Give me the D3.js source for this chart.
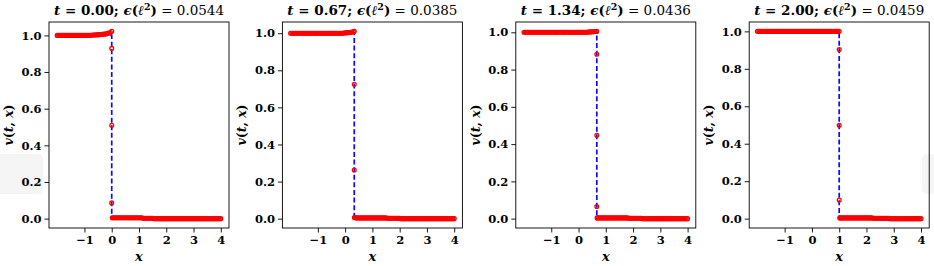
<!DOCTYPE html>
<html><head><meta charset="utf-8">
<script src="https://cdn.jsdelivr.net/npm/d3@7"></script>
<style>body{margin:0;background:#fff}svg{display:block}</style>
</head><body>
<svg id="c" width="934" height="266"></svg>
<script>
// ---- data ----
const times = ["0.00", "0.67", "1.34", "2.00"];
const errors = ["0.0544", "0.0385", "0.0436", "0.0459"];
const shockX = [0.0, 0.335, 0.67, 1.0];
const xGrid = [
  -2.00,-1.95,-1.90,-1.85,-1.80,-1.75,-1.70,-1.65,-1.60,-1.55,
  -1.50,-1.45,-1.40,-1.35,-1.30,-1.25,-1.20,-1.15,-1.10,-1.05,
  -1.00,-0.95,-0.90,-0.85,-0.80,-0.75,-0.70,-0.65,-0.60,-0.55,
  -0.50,-0.45,-0.40,-0.35,-0.30,-0.25,-0.20,-0.15,-0.10,-0.05,
  0.00,0.05,0.10,0.15,0.20,0.25,0.30,0.35,0.40,0.45,
  0.50,0.55,0.60,0.65,0.70,0.75,0.80,0.85,0.90,0.95,
  1.00,1.05,1.10,1.15,1.20,1.25,1.30,1.35,1.40,1.45,
  1.50,1.55,1.60,1.65,1.70,1.75,1.80,1.85,1.90,1.95,
  2.00,2.05,2.10,2.15,2.20,2.25,2.30,2.35,2.40,2.45,
  2.50,2.55,2.60,2.65,2.70,2.75,2.80,2.85,2.90,2.95,
  3.00,3.05,3.10,3.15,3.20,3.25,3.30,3.35,3.40,3.45,
  3.50,3.55,3.60,3.65,3.70,3.75,3.80,3.85,3.90,3.95,
  4.00];
const predT000 = [
  1,1,1,1,1,1,1,1,1,1,
  1,1,1,1,1,1,1,1,1,1,
  1,1,1,1,1.001,1.001,1.002,1.002,1.003,1.003,
  1.004,1.004,1.005,1.006,1.007,1.008,1.009,1.011,1.013,1.016,
  1.022,0.005,0.005,0.005,0.005,0.005,0.005,0.005,0.005,0.005,
  0.005,0.005,0.005,0.005,0.005,0.005,0.005,0.005,0.005,0.005,
  0.005,0.005,0.005,0.002,0.002,0.002,0.002,0.002,0.002,0.002,
  0.002,0,0,0,0,0,0,0,0,0,
  0,0,0,0,0,0,0,0,0,0,
  0,0,0,0,0,0,0,0,0,0,
  0,0,0,0,0,0,0,0,0,0,
  0,0,0,0,0,0,0,0,0,0,
  0];
const predT067 = [
  1,1,1,1,1,1,1,1,1,1,
  1,1,1,1,1,1,1,1,1,1,
  1,1,1,1,1,1,1,1,1,1,
  1,1,1,1,1,1,1,1,1,1.001,
  1.002,1.002,1.003,1.004,1.005,1.006,1.008,0.006,0.004,0.004,
  0.004,0.004,0.004,0.004,0.004,0.004,0.004,0.004,0.004,0.004,
  0.004,0.004,0.004,0.004,0.004,0.004,0.004,0.004,0.004,0.004,
  0.004,0.002,0.002,0.002,0.002,0.002,0.002,0.002,0.002,0.002,
  0.002,0,0,0,0,0,0,0,0,0,
  0,0,0,0,0,0,0,0,0,0,
  0,0,0,0,0,0,0,0,0,0,
  0,0,0,0,0,0,0,0,0,0,
  0];
const predT134 = [
  1,1,1,1,1,1,1,1,1,1,
  1,1,1,1,1,1,1,1,1,1,
  1,1,1,1,1,1,1,1,1,1,
  1,1,1,1,1,1,1,1,1,1,
  1,1,1,1,1,1,1,1.001,1.002,1.002,
  1.003,1.003,1.004,1.004,0.004,0.004,0.004,0.004,0.004,0.004,
  0.004,0.004,0.004,0.004,0.004,0.004,0.004,0.004,0.004,0.004,
  0.004,0.004,0.004,0.004,0.004,0.004,0.004,0.002,0.002,0.002,
  0.002,0.002,0.002,0.002,0.002,0.002,0.002,0,0,0,
  0,0,0,0,0,0,0,0,0,0,
  0,0,0,0,0,0,0,0,0,0,
  0,0,0,0,0,0,0,0,0,0,
  0];
const predT200 = [
  1,1,1,1,1,1,1,1,1,1,
  1,1,1,1,1,1,1,1,1,1,
  1,1,1,1,1,1,1,1,1,1,
  1,1,1,1,1,1,1,1,1,1,
  1,1,1,1,1,1,1,1,1,1,
  1,1,1,1,1,1,1,1,1,1,
  1,0.004,0.004,0.004,0.004,0.004,0.004,0.004,0.004,0.004,
  0.004,0.004,0.004,0.004,0.004,0.004,0.004,0.004,0.004,0.004,
  0.004,0.004,0.004,0.004,0.004,0.002,0.002,0.002,0.002,0.002,
  0.002,0.002,0.002,0.002,0.002,0.002,0.002,0,0,0,
  0,0,0,0,0,0,0,0,0,0,
  0,0,0,0,0,0,0,0,0,0,
  0];
const jumpT000 = [[0.0, 0.929], [0.0, 0.509], [0.0, 0.086], [0.02, 0.005]];
const jumpT067 = [[0.335, 1.010], [0.335, 0.725], [0.335, 0.262], [0.34, 0.006]];
const jumpT134 = [[0.67, 1.005], [0.67, 0.882], [0.67, 0.447], [0.67, 0.065], [0.68, 0.004]];
const jumpT200 = [[1.0, 0.903], [1.0, 0.499], [1.0, 0.099], [1.02, 0.004]];
const preds = [predT000, predT067, predT134, predT200];
const jumps = [jumpT000, jumpT067, jumpT134, jumpT200];
const yTicks = [0.0, 0.2, 0.4, 0.6, 0.8, 1.0];
const xTicks = [-1, 0, 1, 2, 3, 4];
const xRange = [-2, 4];

// ---- layout ----
const svg = d3.select("#c");
const left0 = 49, step = 233.4, pw = 180, topY = 22, bottomY = 228;
const serif = "'DejaVu Serif', serif";

// faint grey boxes at the edges (artifacts in the reference)
svg.append("rect").attr("x", -6).attr("y", 154).attr("width", 49).attr("height", 40)
  .attr("rx", 5).attr("fill", "#f5f5f5");
svg.append("rect").attr("x", 922).attr("y", 154).attr("width", 30).attr("height", 40)
  .attr("rx", 5).attr("fill", "#f5f5f5");

preds.forEach((vals, i) => {
  const L = left0 + i * step;
  const pts = xGrid.map((x, k) => [x, vals[k]]).concat(jumps[i]);
  const pad = (xRange[1] - xRange[0]) * 0.05;
  const x = d3.scaleLinear().domain([xRange[0] - pad, xRange[1] + pad]).range([L, L + pw]);
  const ext = d3.extent(pts, d => d[1]);
  const yp = (ext[1] - ext[0]) * 0.05;
  const y = d3.scaleLinear().domain([ext[0] - yp, ext[1] + yp]).range([bottomY, topY]);
  const g = svg.append("g");

  // axes
  const ya = g.append("g").attr("transform", `translate(${L},0)`)
    .call(d3.axisLeft(y).tickValues(yTicks).tickFormat(d3.format(".1f")).tickSize(4.5).tickPadding(3));
  const xa = g.append("g").attr("transform", `translate(0,${bottomY})`)
    .call(d3.axisBottom(x).tickValues(xTicks).tickFormat(d => d < 0 ? "\u2212" + Math.abs(d) : String(d)).tickSize(4.5).tickPadding(3));
  [ya, xa].forEach(a => {
    a.select(".domain").remove();
    a.selectAll("line").attr("stroke", "#000").attr("stroke-width", 0.9);
    a.selectAll("text").attr("font-family", serif).attr("font-weight", "bold")
      .attr("font-size", "11.5px").attr("fill", "#000");
  });

  // exact solution (blue dashed)
  const s = shockX[i];
  const exact = [[xRange[0], 1], [s, 1], [s, 0], [xRange[1], 0]];
  g.append("path").attr("d", d3.line().x(d => x(d[0])).y(d => y(d[1]))(exact))
    .attr("fill", "none").attr("stroke", "#0a0aff").attr("stroke-width", 1.7)
    .attr("stroke-dasharray", "5,2.6");

  // predicted points (hollow red circles)
  g.append("g").selectAll("circle").data(pts).join("circle")
    .attr("cx", d => x(d[0])).attr("cy", d => y(d[1])).attr("r", 1.9)
    .attr("fill", "none").attr("stroke", "#ff0000").attr("stroke-width", 1.3);

  // frame
  g.append("rect").attr("x", L).attr("y", topY).attr("width", pw).attr("height", bottomY - topY)
    .attr("fill", "none").attr("stroke", "#000").attr("stroke-width", 0.9);

  // title
  const cx = L + pw / 2;
  const t = g.append("text").attr("x", cx).attr("y", 15).attr("text-anchor", "middle")
    .attr("font-family", serif).attr("font-size", "13.5px").attr("fill", "#000");
  t.append("tspan").attr("font-weight", "bold").attr("font-style", "italic").text("t");
  t.append("tspan").attr("font-weight", "bold").text(" = " + times[i] + "; ");
  t.append("tspan").attr("font-weight", "bold").attr("font-style", "italic").text("\u03F5");
  t.append("tspan").attr("font-weight", "bold").text("(");
  t.append("tspan").attr("font-weight", "bold").attr("font-style", "italic").text("\u2113");
  t.append("tspan").attr("font-weight", "bold").attr("font-size", "9.5px").attr("dy", -5).text("2");
  t.append("tspan").attr("font-weight", "bold").attr("dy", 5).text(")");
  t.append("tspan").text(" = " + errors[i]);

  // x label
  g.append("text").attr("x", cx).attr("y", 261).attr("text-anchor", "middle")
    .attr("font-family", serif).attr("font-size", "13px").attr("font-style", "italic")
    .attr("font-weight", "bold").text("x");

  // y label
  const yl = g.append("text").attr("transform", `translate(${L - 36},${(topY + bottomY) / 2}) rotate(-90)`)
    .attr("text-anchor", "middle").attr("font-family", serif).attr("font-size", "12.5px")
    .attr("font-weight", "bold");
  yl.append("tspan").attr("font-style", "italic").text("v");
  yl.append("tspan").text("(");
  yl.append("tspan").attr("font-style", "italic").text("t");
  yl.append("tspan").text(", ");
  yl.append("tspan").attr("font-style", "italic").text("x");
  yl.append("tspan").text(")");
});
</script>
</body></html>
